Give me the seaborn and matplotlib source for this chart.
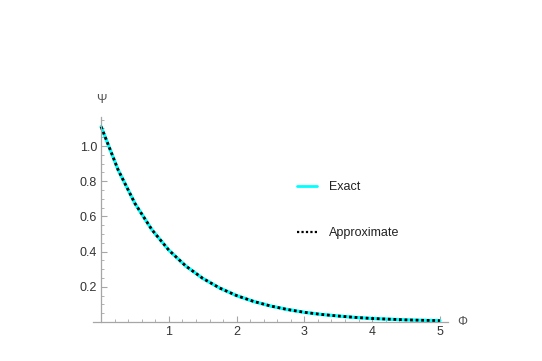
import seaborn as sns
import matplotlib.pyplot as plt
import pandas as pd
from matplotlib.ticker import MultipleLocator

# values
phi = [0, 0.25, 0.5, 0.75, 1, 1.25, 1.5, 1.75, 2, 2.25, 2.5, 2.75, 3,
       3.25, 3.5, 3.75, 4, 4.25, 4.5, 4.75, 5]
psi_exact = [1.11, 0.865, 0.673, 0.524, 0.408, 0.318, 0.248, 0.193, 0.150,
             0.117, 0.091, 0.071, 0.055, 0.043, 0.034, 0.026, 0.020, 0.016,
             0.012, 0.0096, 0.0075]
psi_approx = psi_exact

df = pd.DataFrame({'phi': phi, 'exact': psi_exact, 'approx': psi_approx})

sns.set_style('white')
plt.rcParams['font.family'] = ['Liberation Sans', 'DejaVu Sans']

fig = plt.figure(figsize=(5.42, 3.61), dpi=100)
ax = fig.add_axes([93 / 542, 39 / 361, 355 / 542, 205 / 361])

sns.lineplot(data=df, x='phi', y='exact', ax=ax, color='#00FFFF', linewidth=2.4,
             label='Exact')
sns.lineplot(data=df, x='phi', y='approx', ax=ax, color='black', linewidth=2.0,
             linestyle=(0, (1.8, 1.2)), label='Approximate')

ax.set_xlim(-0.12, 5.12)
ax.set_ylim(0, 1.165)

# Mathematica-like axes through the origin
ax.spines['left'].set_position(('data', 0))
ax.spines['bottom'].set_position(('data', 0))
ax.spines['right'].set_visible(False)
ax.spines['top'].set_visible(False)
for s in ['left', 'bottom']:
    ax.spines[s].set_color('#a6a6a6')
    ax.spines[s].set_linewidth(0.9)

ax.set_xticks([1, 2, 3, 4, 5])
ax.set_yticks([0.2, 0.4, 0.6, 0.8, 1.0])
ax.set_yticklabels(['0.2', '0.4', '0.6', '0.8', '1.0'])
ax.xaxis.set_minor_locator(MultipleLocator(0.2))
ax.yaxis.set_minor_locator(MultipleLocator(0.05))
ax.tick_params(which='major', direction='in', length=4, width=0.8, color='#a6a6a6',
               labelsize=9, labelcolor='#333333', pad=3)
ax.tick_params(which='minor', direction='in', length=2, width=0.6, color='#a6a6a6')
ax.tick_params(axis='x', bottom=True, which='both')
ax.tick_params(axis='y', left=True, which='both')

ax.set_xlabel('')
ax.set_ylabel('')
fig.text(462 / 542, 1 - 322 / 361, 'Φ', fontsize=9, color='#555555',
         ha='center', va='center')
fig.text(101 / 542, 1 - 100 / 361, 'Ψ', fontsize=9, color='#555555',
         ha='center', va='center')

handles, labels = ax.get_legend_handles_labels()
handles[1].set_linestyle((0, (1, 1)))
leg = ax.legend(handles, labels, loc='center left', frameon=False,
                bbox_to_anchor=(286 / 542, 1 - 210 / 361),
                bbox_transform=fig.transFigure, labelspacing=2.7,
                handlelength=1.6, handletextpad=0.9, fontsize=9)
for t in leg.get_texts():
    t.set_color('#222222')
leg.legend_handles[0].set_linewidth(2.0)
leg.legend_handles[1].set_linewidth(1.6)

fig.savefig('out.png', dpi=100)
